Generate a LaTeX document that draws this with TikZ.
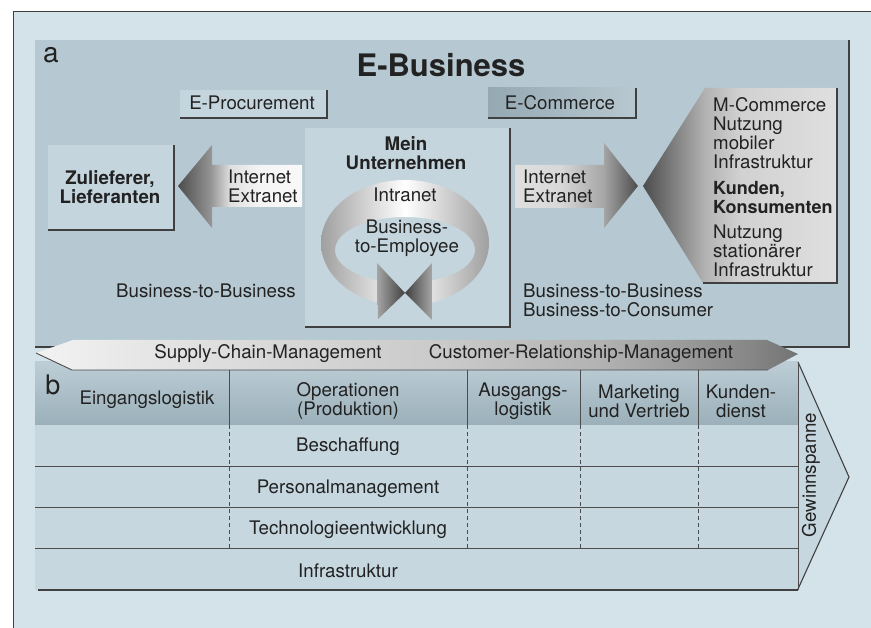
\documentclass[tikz,border=0pt]{standalone}
\usepackage{fontspec}
\setmainfont{TeX Gyre Heros}
\definecolor{bgblue}{HTML}{D4E3EA}
\definecolor{panela}{HTML}{B6C8D1}
\definecolor{boxlight}{HTML}{C4D5DD}
\definecolor{rowfill}{HTML}{C6D7E0}
\definecolor{headtop}{HTML}{BCCDD5}
\definecolor{headbot}{HTML}{9BB0BA}
\definecolor{ecomA}{HTML}{95A9B3}
\definecolor{ecomB}{HTML}{B8C8D0}
\definecolor{ink}{HTML}{222222}
\pgfdeclarehorizontalshading{kundshade}{100bp}{color(0bp)=(black!70); color(25bp)=(black!70); color(41bp)=(gray!60); color(50bp)=(gray!36); color(75bp)=(gray!25); color(100bp)=(gray!25)}
\pgfdeclarehorizontalshading{bannershade}{100bp}{color(0bp)=(gray!10); color(25bp)=(gray!10); color(40bp)=(gray!30); color(52bp)=(gray!42); color(62bp)=(gray!60); color(72bp)=(gray!95); color(75bp)=(black!55); color(100bp)=(black!55)}
\pgfdeclarehorizontalshading{larrowshade}{100bp}{color(0bp)=(black!70); color(25bp)=(black!70); color(38bp)=(gray!85); color(46bp)=(gray!25); color(58bp)=(gray!8); color(75bp)=(gray!5); color(100bp)=(gray!5)}
\pgfdeclarehorizontalshading{rarrowshade}{100bp}{color(0bp)=(gray!25); color(25bp)=(gray!25); color(43bp)=(gray!30); color(61bp)=(gray!70); color(75bp)=(black!70); color(100bp)=(black!70)}
\begin{document}
\begin{tikzpicture}[x=1pt,y=-1pt,
  txt/.style={font=\fontsize{18.7}{19}\selectfont, text=ink, inner sep=0pt, align=center},
  btxt/.style={font=\fontsize{18.7}{19}\selectfont\bfseries, text=ink, inner sep=0pt, align=center},
  ltxt/.style={txt, align=left, anchor=west},
  edgeln/.style={draw=black!75, line width=1.1pt},
  thinln/.style={draw=black!70, line width=0.9pt},
  dashln/.style={draw=black!70, line width=0.9pt, dash pattern=on 4pt off 3pt}
]
\useasboundingbox (0,0) rectangle (871,628);
\fill[white] (0,0) rectangle (871,628);
% outer frame
\fill[bgblue] (13,12) rectangle (875,632);
\draw[black!75, line width=1pt] (13,632) -- (13,12) -- (875,12);

% ---------------- panel a ----------------
\fill[panela] (35,40) rectangle (849,347);
\draw[edgeln] (35,347) -- (849,347) -- (849,40);
\node[font=\fontsize{28}{28}\selectfont, text=ink, inner sep=0pt] (la) at (51,55) {a};
\node[font=\fontsize{31}{31}\selectfont\bfseries, text=ink, inner sep=0pt] (eb) at (441,65) {E-Business};

% E-Procurement
\fill[boxlight] (180,90) rectangle (327,118);
\draw[edgeln] (180,118) -- (327,118) -- (327,90);
\node[txt] (eproc) at (252,103) {E-Procurement};

% E-Commerce
\shade[left color=ecomA, right color=ecomB] (488,88) rectangle (636,118);
\draw[edgeln] (488,118) -- (636,118) -- (636,88);
\node[txt] (ecom) at (560,103) {E-Commerce};

% Zulieferer
\fill[boxlight] (48,145) rectangle (174,230);
\draw[edgeln] (48,230) -- (174,230) -- (174,145);
\node[btxt] (zul) at (110,187) {Zulieferer,\\Lieferanten};

% left arrow
\shade[shading=larrowshade]
  (178,186) -- (212,145) -- (212,165) -- (302,165) -- (302,207) -- (212,207) -- (212,228) -- cycle;
\node[ltxt] (ie1) at (228,186) {Internet\\Extranet};

% center box
\fill[boxlight] (305,128) rectangle (510,327);
\draw[edgeln] (305,327) -- (510,327) -- (510,128);
\node[btxt] (mein) at (406,153) {Mein\\Unternehmen};

% ring
\begin{scope}
\clip (300,170) rectangle (500,262) (300,262) rectangle (378,330) (432,262) rectangle (500,330);
\shade[even odd rule, left color=gray!75, right color=gray!75, middle color=white]
  (405,243) ellipse [x radius=84, y radius=63] (405,250) ellipse [x radius=70, y radius=33];
\end{scope}
\shade[left color=gray!70, right color=black!75] (377,263) -- (405,293) -- (378,319) -- cycle;
\shade[left color=black!75, right color=gray!70] (432,263) -- (405,293) -- (432,320) -- cycle;
\node[txt] (intra) at (405,195) {Intranet};
\node[txt] (b2e) at (407,238) {Business-\\to-Employee};

% right arrow
\shade[shading=rarrowshade]
  (515,165) -- (604,165) -- (604,143) -- (638,186) -- (604,228) -- (604,208) -- (515,208) -- cycle;
\node[ltxt] (ie2) at (523,186) {Internet\\Extranet};

% Kunden shape
\shade[shading=kundshade]
  (643,186) -- (705,88) -- (837,88) -- (837,283) -- (703,283) -- cycle;
\draw[edgeln] (703,283) -- (837,283) -- (837,88);
\node[ltxt] (mc) at (713,133) {M-Commerce\\Nutzung\\mobiler\\Infrastruktur};
\node[font=\fontsize{18}{19}\selectfont\bfseries, text=ink, inner sep=0pt, align=left, anchor=west] (kunden) at (713,198) {Kunden,\\Konsumenten};
\node[ltxt] (stat) at (713,251) {Nutzung\\stationärer\\Infrastruktur};

\node[txt] (b2b1) at (206,291) {Business-to-Business};
\node[ltxt] (b2b2) at (523,300) {Business-to-Business\\Business-to-Consumer};

% ---------------- panel b ----------------
\fill[rowfill] (35,362) rectangle (798,590);
\shade[top color=headtop, bottom color=headbot] (35,362) rectangle (798,425);
\fill[rowfill] (798,362) -- (849,477) -- (798,589) -- cycle;
\draw[edgeln] (798,362) -- (849,477) -- (798,589);
\draw[thinln] (798,362) -- (798,590);

% banner
\shade[shading=bannershade]
  (36,353) -- (73,340) -- (767,340) -- (798,354) -- (768,370) -- (72,370) -- cycle;
\draw[thinln] (36,353) -- (72,370) -- (768,370);
\node[txt] (scm) at (268,354) {Supply-Chain-Management};
\node[txt] (crm) at (581,354) {Customer-Relationship-Management};

% grid
\foreach \yy in {466,507,548} \draw[thinln] (35,\yy) -- (798,\yy);
\draw[edgeln] (38,590) -- (798,590);
\foreach \xx in {229,467,580,698} {
  \draw[thinln] (\xx,370) -- (\xx,425);
  \draw[dashln] (\xx,425) -- (\xx,548);
}

\node[font=\fontsize{27}{27}\selectfont, text=ink, inner sep=0pt] (lb) at (53,385) {b};
\node[txt] (h1) at (147,400) {Eingangslogistik};
\node[txt] (h2) at (348,401) {Operationen\\(Produktion)};
\node[txt] (h3) at (523,401) {Ausgangs-\\logistik};
\node[txt] (h4) at (639,401) {Marketing\\und Vertrieb};
\node[txt] (h5) at (741,401) {Kunden-\\dienst};

\node[txt] (r1) at (348,447) {Beschaffung};
\node[txt] (r2) at (348,489) {Personalmanagement};
\node[txt] (r3) at (348,530) {Technologieentwicklung};
\node[txt] (r4) at (348,571) {Infrastruktur};

\node[txt, rotate=90] (gew) at (811,475) {Gewinnspanne};
\end{tikzpicture}
\end{document}
